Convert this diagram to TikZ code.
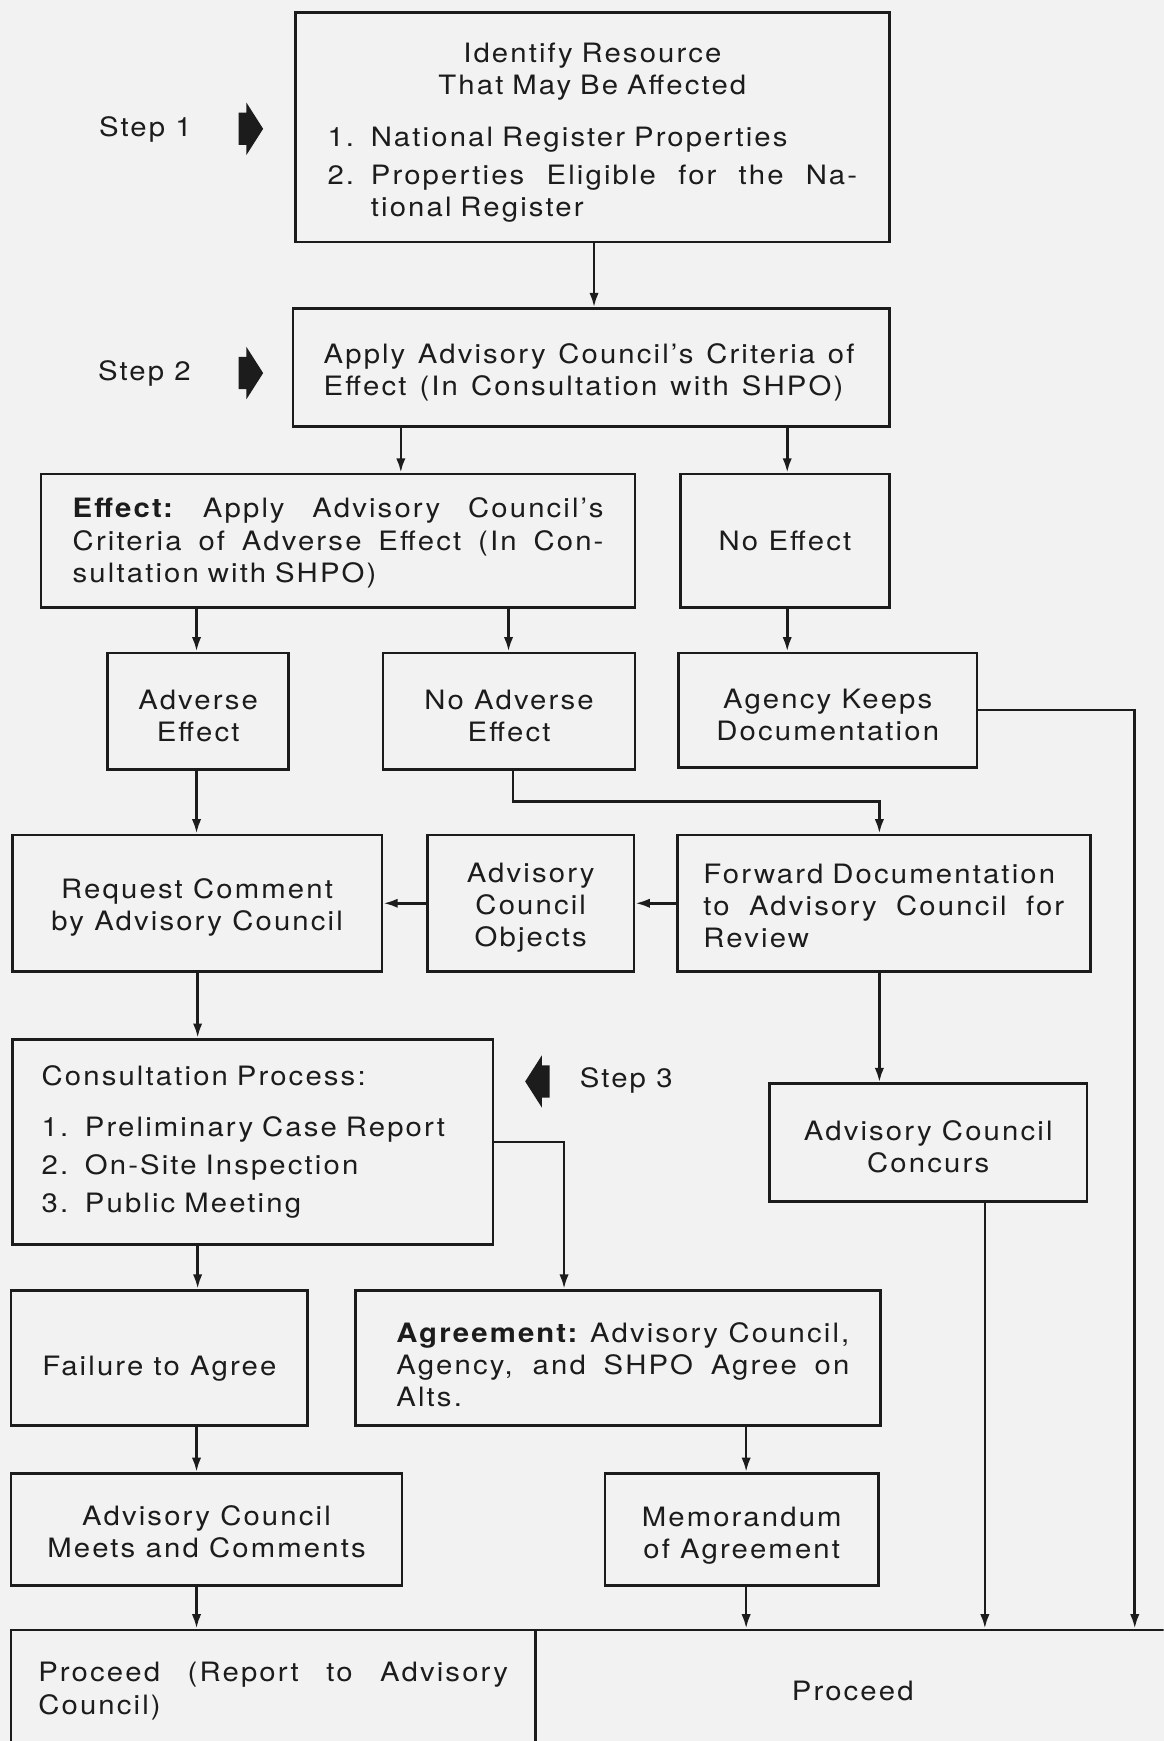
\documentclass[tikz,border=0pt]{standalone}
\usepackage{fontspec}
\setmainfont{TeX Gyre Heros}[FakeStretch=1.1,LetterSpace=8]
\usetikzlibrary{arrows.meta}
\definecolor{bg}{RGB}{242,242,242}
\definecolor{ink}{RGB}{28,28,28}
\newcommand{\jl}[2]{{\spaceskip=0.3333em plus 1fil minus 0.1em\xspaceskip=\spaceskip\makebox[#1][s]{#2}}}
\newcommand{\itm}[2]{\makebox[19.5pt][l]{#1}#2}
\newcommand{\dr}[1]{\rule{0pt}{#1}}
\tikzset{
  flowbox/.style={draw=ink, line width=1.2pt, inner sep=0pt, text=ink,
    font=\fontsize{12}{14.5}\selectfont, align=center},
  steptext/.style={text=ink, font=\fontsize{12}{14.5}\selectfont, inner sep=0pt},
  arr/.style={draw=ink, line width=1.2pt, -{Latex[length=6.5pt,width=4.2pt]}},
}
\begin{document}
\begin{tikzpicture}[x=0.5pt,y=-0.5pt]
\useasboundingbox (0,0) rectangle (1048,1568);
\fill[bg] (0,0) rectangle (1048,1568);
\clip (0,0) rectangle (1048,1568);

% helper x positions
\coordinate (c535) at (535,0);
\coordinate (c361) at (361,0);
\coordinate (c709) at (709,0);
\coordinate (c177) at (177,0);
\coordinate (c458) at (458,0);
\coordinate (c792) at (792,0);
\coordinate (c178) at (178,0);
\coordinate (c508) at (508,0);
\coordinate (c672) at (672,0);
\coordinate (c887) at (887,0);
\coordinate (cR) at (1022,0);
\coordinate (t1) at (462,722);

% boxes
\node[flowbox, minimum width=267.5pt, minimum height=103.5pt, text width=238.5pt, align=left] (b1) at (533.5,114.5) {%
\dr{14pt}\makebox[238.5pt][c]{Identify Resource}\\
\makebox[238.5pt][c]{That May Be Affected}\\[9pt]
\itm{1.}{National Register Properties}\\[2.5pt]
\itm{2.}{\jl{219pt}{Properties Eligible for the Na-}}\\
\hspace*{19.5pt}tional Register};

\node[flowbox, minimum width=268.5pt, minimum height=53pt, text width=241pt, align=left] (b2) at (532.5,331) {%
\dr{13pt}\jl{239pt}{Apply Advisory Council’s Criteria of}\\
\jl{234pt}{Effect (In Consultation with SHPO)}};

\node[flowbox, minimum width=267.5pt, minimum height=60pt, text width=239pt, align=left] (b3) at (304.5,487) {%
\dr{11pt}\jl{239pt}{\textbf{Effect:} Apply Advisory Council’s}\\
\jl{239pt}{Criteria of Adverse Effect (In Con-}\\
sultation with SHPO)};

\node[flowbox, minimum width=94pt, minimum height=60pt] (b4) at (707,487) {No Effect};

\node[flowbox, minimum width=81.5pt, minimum height=52.5pt] (b5) at (178.5,640.5) {\dr{13pt}Adverse\\Effect};
\node[flowbox, minimum width=113.5pt, minimum height=52.5pt] (b6) at (458.5,640.5) {\dr{13pt}No Adverse\\Effect};
\node[flowbox, minimum width=134.5pt, minimum height=51.5pt] (b7) at (745.5,639.5) {\dr{13pt}Agency Keeps\\Documentation};

\node[flowbox, minimum width=166.5pt, minimum height=61.5pt] (b8) at (177.5,813.5) {\dr{13pt}Request Comment\\by Advisory Council};
\node[flowbox, minimum width=93pt, minimum height=61.5pt] (b9) at (478,813.5) {\dr{13pt}Advisory\\Council\\Objects};
\node[flowbox, minimum width=186pt, minimum height=61.5pt, text width=162.5pt, align=left] (b10) at (796,813.5) {%
\dr{11pt}Forward Documentation\\
\jl{162.5pt}{to Advisory Council for}\\
Review};

\node[flowbox, minimum width=216.5pt, minimum height=92.5pt, text width=190pt, align=left] (b11) at (227.5,1028.5) {%
Consultation Process:\\[8.5pt]
\itm{1.}{Preliminary Case Report}\\[2.5pt]
\itm{2.}{On-Site Inspection}\\[2.5pt]
\itm{3.}{Public Meeting}};

\node[flowbox, minimum width=143pt, minimum height=53pt] (b12) at (836,1029) {\dr{13pt}Advisory Council\\Concurs};

\node[flowbox, minimum width=133.5pt, minimum height=61pt] (b13) at (143.5,1223) {\dr{18pt}Failure to Agree};
\node[flowbox, minimum width=236.5pt, minimum height=61pt, text width=208pt, align=left] (b14) at (556.5,1223) {%
\dr{15pt}\hspace*{4.25pt}\jl{204pt}{\textbf{Agreement:} Advisory Council,}\\
\hspace*{4.25pt}\jl{204pt}{Agency, and SHPO Agree on}\\
\hspace*{4.25pt}Alts.};
\node[flowbox, minimum width=176pt, minimum height=50.5pt] (b15) at (186,1377.5) {\dr{11pt}Advisory Council\\Meets and Comments};
\node[flowbox, minimum width=123pt, minimum height=50.5pt] (b16) at (668,1377.5) {\dr{14pt}Memorandum\\of Agreement};

\node[flowbox, minimum width=236pt, minimum height=55pt, text width=211.5pt, align=left] (b17) at (246,1523) {%
\jl{211.5pt}{Proceed (Report to Advisory}\\
Council)};
\node[flowbox, minimum width=286pt, minimum height=55pt] (b18) at (768,1523) {Proceed};

% step markers
\node[steptext] (s1) at (131,117) {Step 1};
\node[steptext] (s2) at (130,336) {Step 2};
\node[steptext] (s3) at (564,973) {Step 3};
\fill[ink] (215,101.5) -- (222,101.5) -- (222,92.5) -- (237,116) -- (222,139.5) -- (222,130.5) -- (215,130.5) -- cycle;
\fill[ink] (215,321.5) -- (222,321.5) -- (222,312.5) -- (237,336) -- (222,359.5) -- (222,350.5) -- (215,350.5) -- cycle;
\fill[ink] (495,959.5) -- (488,959.5) -- (488,950.5) -- (473,974) -- (488,997.5) -- (488,988.5) -- (495,988.5) -- cycle;

% connectors
\draw[arr] (c535 |- b1.south) -- (c535 |- b2.north);
\draw[arr] (c361 |- b2.south) -- (c361 |- b3.north);
\draw[arr] (c709 |- b2.south) -- (c709 |- b4.north);
\draw[arr] (c177 |- b3.south) -- (c177 |- b5.north);
\draw[arr] (c458 |- b3.south) -- (c458 |- b6.north);
\draw[arr] (c709 |- b4.south) -- (c709 |- b7.north);
\draw[arr] (c177 |- b5.south) -- (c177 |- b8.north);
\draw[arr] (b6.south -| t1) -- (t1) -| (c792 |- b10.north);
\draw[arr] (b7.east) -| (cR |- b18.north);
\draw[arr] (b10.west) -- (b9.east);
\draw[arr] (b9.west) -- (b8.east);
\draw[arr] (c178 |- b8.south) -- (c178 |- b11.north);
\draw[arr] (c792 |- b10.south) -- (c792 |- b12.north);
\draw[arr] (b11.east) -| (c508 |- b14.north);
\draw[arr] (c178 |- b11.south) -- (c178 |- b13.north);
\draw[arr] (c177 |- b13.south) -- (c177 |- b15.north);
\draw[arr] (c672 |- b14.south) -- (c672 |- b16.north);
\draw[arr] (c177 |- b15.south) -- (c177 |- b17.north);
\draw[arr] (c672 |- b16.south) -- (c672 |- b18.north);
\draw[arr] (c887 |- b12.south) -- (c887 |- b18.north);
\end{tikzpicture}
\end{document}
